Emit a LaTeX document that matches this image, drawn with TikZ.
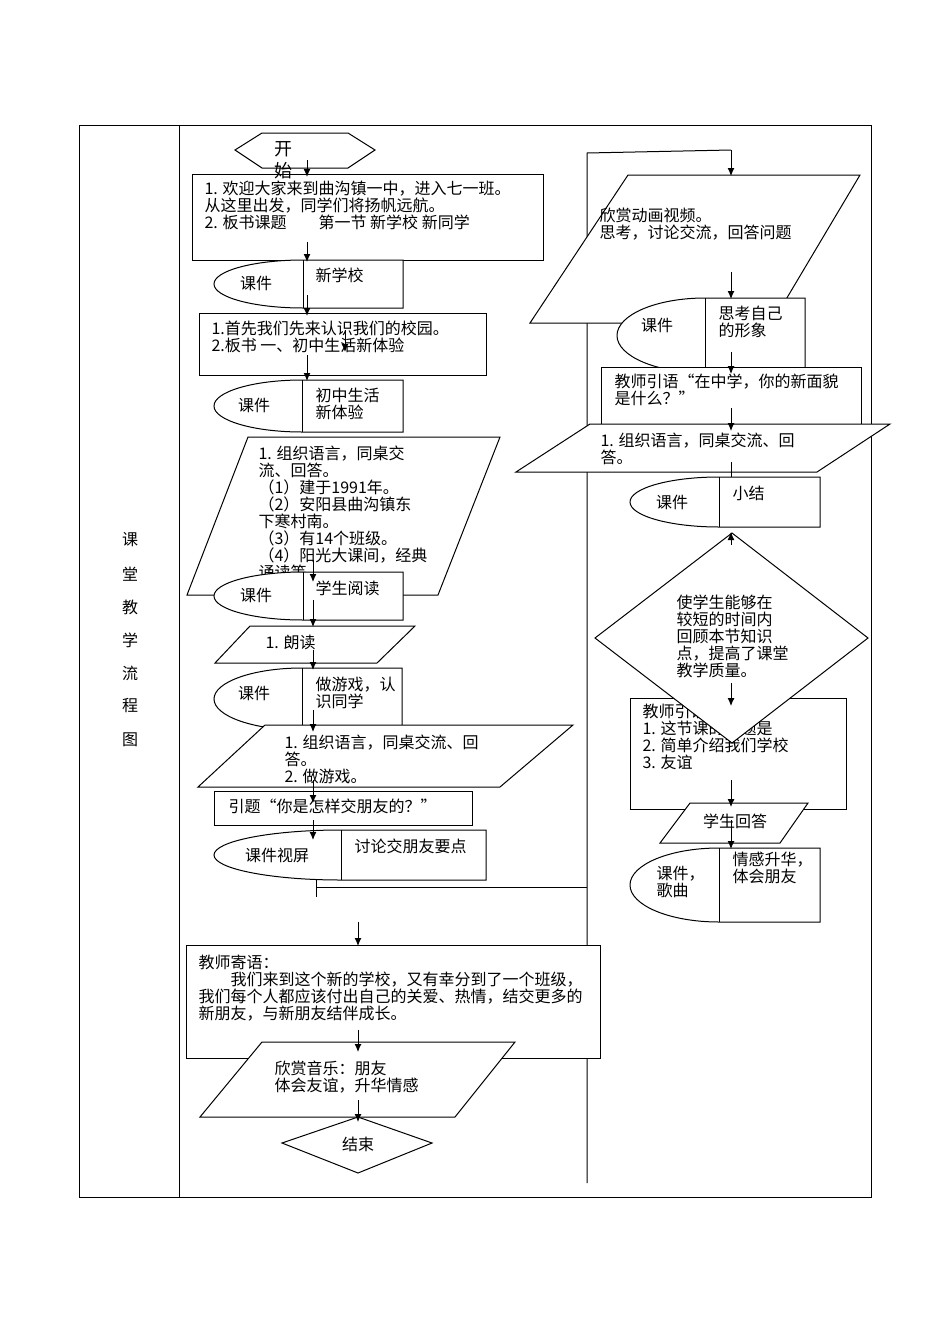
\documentclass[tikz,border=0pt]{standalone}
\usepackage{fontspec}
\newfontfamily\cjk{Noto Sans CJK SC}
\usetikzlibrary{arrows.meta}
\begin{document}
\begin{tikzpicture}[x=1pt,y=-1pt,line width=1pt,
  txt/.style={anchor=north west,inner sep=0pt,align=left,font=\cjk\fontsize{16}{17}\selectfont},
  ctr/.style={inner sep=0pt,align=center,font=\cjk\fontsize{16}{17}\selectfont},
  shp/.style={draw,fill=white},
  arr/.style={-{Latex[length=8pt,width=7pt]}}]
\useasboundingbox (0,0) rectangle (950,1344);
\newcommand{\card}[5]{% xl xd xr yt yb
  \draw[shp] (#2,#4) -- (#3,#4) -- (#3,#5) -- (#2,#5)
   .. controls ({#2-0.552*(#2-#1)},#5) and (#1,{(#4+#5)/2+0.552*(#5-#4)/2}) .. (#1,{(#4+#5)/2})
   .. controls (#1,{(#4+#5)/2-0.552*(#5-#4)/2}) and ({#2-0.552*(#2-#1)},#4) .. cycle;
  \draw (#2,#4) -- (#2,#5);}
\newcommand{\arw}[3]{\coordinate (a1) at (#1,#2); \coordinate (a2) at (#1,#3); \draw[arr] (a1) -- (a2);}
% table
\draw (79,125) rectangle (871,1197);
\draw (179,125) -- (179,1197);
\foreach \c/\y in {课/540,堂/574,教/607,学/640,流/673,程/706,图/740}
  \node[ctr] (L\y) at (130,\y) {\c};
% right connector lines
\draw (316,887) -- (587,887);
\draw (316,873) -- (316,897);
\draw (587,1183) -- (587,153) -- (731,150);
% ---------- left column
\draw[shp] (235,150) -- (262,133) -- (348,133) -- (375,150) -- (348,168) -- (262,168) -- cycle;
\draw[shp] (192,174) rectangle (543,260);
\node[txt,font=\cjk\fontsize{18}{22}\selectfont] (start) at (274,141) {开\\始};
\node[txt] (b1) at (204,180) {1. 欢迎大家来到曲沟镇一中，进入七一班。\\从这里出发，同学们将扬帆远航。\\2. 板书课题\qquad 第一节\ 新学校\ 新同学};
\card{214}{303}{403}{260}{308}
\node[ctr] (c1) at (256,283) {课件};
\node[txt] (c1r) at (315,267) {新学校};
\draw[shp] (199,313) rectangle (486,375);
\node[txt] (b2) at (211,320) {1.首先我们先来认识我们的校园。\\2.板书 一、初中生活新体验};
\card{214}{302}{403}{380}{432}
\node[ctr] (c2) at (254,405) {课件};
\node[txt] (c2r) at (315,388) {初中生活\\新体验};
\draw[shp] (248,437) -- (500,437) -- (438,595) -- (187,595) -- cycle;
\node[txt] (p1) at (258,445) {1. 组织语言，同桌交\\流、回答。\\（1）建于1991年。\\（2）安阳县曲沟镇东\\下寒村南。\\（3）有14个班级。\\（4）阳光大课间，经典\\诵读等};
\card{214}{303}{403}{572}{620}
\node[ctr] (c3) at (256,595) {课件};
\node[txt] (c3r) at (315,580) {学生阅读};
\draw[shp] (250,626) -- (415,626) -- (377,663) -- (215,663) -- cycle;
\node[txt] (p2) at (265,635) {1. 朗读};
\card{214}{302}{402}{668}{730}
\node[ctr] (c4) at (254,693) {课件};
\node[txt] (c4r) at (315,677) {做游戏，认\\识同学};
\draw[shp] (265,725) -- (573,725) -- (500,787) -- (198,787) -- cycle;
\node[txt] (p3) at (284,734) {1. 组织语言，同桌交流、回\\答。\\2. 做游戏。};
\draw[shp] (214,791) rectangle (472,825);
\node[txt] (b3) at (228,798) {引题“你是怎样交朋友的？”};
\card{214}{341}{486}{830}{880}
\node[ctr] (c5) at (277,855) {课件视屏};
\node[txt] (c5r) at (354,838) {讨论交朋友要点};
\draw[shp] (186,945) rectangle (600,1058);
\node[txt] (b4) at (198,954) {教师寄语：\\\hspace*{2em}我们来到这个新的学校，又有幸分到了一个班级，\\我们每个人都应该付出自己的关爱、热情，结交更多的\\新朋友，与新朋友结伴成长。};
\draw[shp] (262,1042) -- (515,1042) -- (455,1117) -- (200,1117) -- cycle;
\node[txt] (p4) at (274,1060) {欣赏音乐：朋友\\体会友谊，升华情感};
\draw[shp] (282,1143) -- (358,1117) -- (432,1143) -- (358,1173) -- cycle;
\node[ctr] (end) at (358,1144) {结束};
% ---------- right column
\draw[shp] (628,175) -- (860,175) -- (772,323) -- (530,323) -- cycle;
\node[txt] (p5) at (599,207) {欣赏动画视频。\\思考，讨论交流，回答问题};
\card{617}{705}{805}{298}{373}
\node[ctr] (c6) at (657,325) {课件};
\node[txt] (c6r) at (718,306) {思考自己\\的形象};
\draw[shp] (601,367) rectangle (861,425);
\node[txt] (b5) at (614,373) {教师引语“在中学，你的新面貌\\是什么？”};
\draw[shp] (590,424) -- (890,424) -- (817,472) -- (516,472) -- cycle;
\node[txt] (p6) at (600,432) {1. 组织语言，同桌交流、回\\答。};
\card{630}{719}{820}{477}{527}
\node[ctr] (c7) at (672,502) {课件};
\node[txt] (c7r) at (732,486) {小结};
\draw[shp] (630,698) rectangle (846,809);
\node[txt] (b6) at (642,704) {教师引语\\1. 这节课的主题是\\2. 简单介绍我们学校\\3. 友谊};
\draw[shp] (595,638) -- (732,533) -- (868,638) -- (732,743) -- cycle;
\node[txt] (d1) at (676,594) {使学生能够在\\较短的时间内\\回顾本节知识\\点，提高了课堂\\教学质量。};
\draw[shp] (690,803) -- (808,803) -- (780,843) -- (660,843) -- cycle;
\node[ctr] (p7) at (735,821) {学生回答};
\card{630}{719}{820}{848}{922}
\node[txt] (c8) at (656,866) {课件，\\歌曲};
\node[txt] (c8r) at (732,852) {情感升华，\\体会朋友};
% ---------- arrows
\arw{307}{160}{177}
\arw{307}{242}{262}
\arw{307}{295}{316}
\arw{345}{330}{352}
\arw{307}{355}{381}
\arw{313}{560}{582}
\arw{313}{600}{627}
\arw{313}{650}{670}
\arw{313}{710}{732}
\arw{313}{780}{803}
\arw{313}{820}{840}
\arw{358}{922}{946}
\arw{358}{1030}{1052}
\arw{358}{1100}{1122}
\arw{731}{150}{176}
\arw{731}{272}{299}
\arw{731}{352}{374}
\arw{731}{408}{431}
\draw (731,462) -- (731,477);
\arw{731}{545}{532}
\arw{731}{683}{706}
\arw{731}{780}{807}
\arw{731}{820}{849}
\end{tikzpicture}
\end{document}
